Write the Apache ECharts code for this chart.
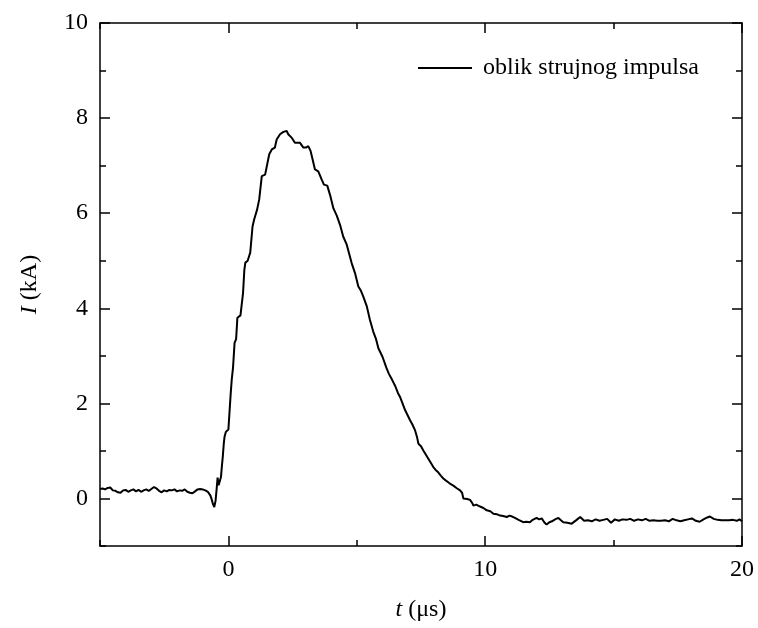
<!DOCTYPE html>
<html><head><meta charset="utf-8">
<script src="https://cdn.jsdelivr.net/npm/echarts@6/dist/echarts.min.js"></script>
<style>html,body{margin:0;padding:0;background:#fff}#c{width:758px;height:628px}</style>
</head><body><div id="c"></div>
<script>
const timeUs = [-5.0,-4.9,-4.8,-4.7,-4.6,-4.5,-4.4,-4.3,-4.2,-4.1,-4.0,-3.9,-3.8,-3.7,-3.6,-3.5,-3.4,-3.3,-3.2,-3.1,-3.0,-2.9,-2.8,-2.7,-2.6,-2.5,-2.4,-2.3,-2.2,-2.1,-2.0,-1.9,-1.8,-1.7,-1.6,-1.5,-1.4,-1.3,-1.2,-1.1,-1.0,-0.9,-0.8,-0.7,-0.65,-0.6,-0.55,-0.5,-0.45,-0.42,-0.38,-0.33,-0.29,-0.25,-0.22,-0.18,-0.15,-0.1,-0.03,0.0,0.04,0.09,0.13,0.18,0.24,0.3,0.35,0.4,0.47,0.57,0.62,0.66,0.75,0.85,0.94,1.0,1.12,1.2,1.3,1.43,1.59,1.69,1.81,1.88,2.01,2.14,2.27,2.33,2.46,2.59,2.79,2.92,3.02,3.11,3.2,3.28,3.37,3.5,3.63,3.72,3.85,3.96,4.09,4.22,4.35,4.47,4.6,4.7,4.8,4.93,5.06,5.15,5.25,5.39,5.51,5.64,5.75,5.84,6.0,6.15,6.25,6.37,6.5,6.6,6.68,6.78,6.88,6.97,7.07,7.17,7.27,7.35,7.4,7.5,7.59,7.68,7.78,7.88,7.98,8.07,8.17,8.27,8.37,8.46,8.56,8.66,8.76,8.88,9.02,9.1,9.15,9.3,9.41,9.5,9.54,9.65,9.8,9.93,10.06,10.2,10.32,10.45,10.58,10.7,10.84,10.95,11.05,11.16,11.3,11.48,11.6,11.74,11.85,12.0,12.1,12.2,12.3,12.39,12.5,12.6,12.72,12.85,12.95,13.04,13.2,13.37,13.56,13.7,13.85,14.0,14.15,14.3,14.45,14.6,14.75,14.9,15.05,15.2,15.35,15.5,15.65,15.8,15.95,16.1,16.25,16.4,16.55,16.7,16.85,17.0,17.15,17.3,17.45,17.6,17.75,17.9,18.05,18.2,18.35,18.5,18.65,18.75,18.9,19.05,19.2,19.35,19.5,19.65,19.8,19.9,20.0];
const currentKA = [0.20,0.21,0.19,0.22,0.23,0.17,0.16,0.13,0.12,0.17,0.18,0.14,0.17,0.19,0.15,0.18,0.14,0.17,0.19,0.16,0.20,0.24,0.21,0.16,0.13,0.17,0.15,0.18,0.17,0.19,0.15,0.17,0.16,0.19,0.14,0.12,0.11,0.15,0.19,0.20,0.19,0.17,0.14,0.06,-0.02,-0.12,-0.18,-0.05,0.25,0.44,0.28,0.32,0.45,0.7,0.87,1.15,1.3,1.4,1.42,1.45,1.79,2.21,2.5,2.75,3.27,3.35,3.8,3.82,3.85,4.32,4.8,4.96,5.0,5.17,5.72,5.86,6.08,6.29,6.78,6.81,7.24,7.34,7.38,7.55,7.66,7.71,7.73,7.66,7.59,7.48,7.48,7.38,7.38,7.41,7.31,7.13,6.92,6.88,6.71,6.6,6.58,6.38,6.1,5.95,5.75,5.51,5.35,5.15,4.95,4.74,4.46,4.38,4.25,4.04,3.76,3.51,3.35,3.16,2.98,2.75,2.62,2.5,2.36,2.22,2.14,2.0,1.86,1.76,1.65,1.55,1.43,1.28,1.15,1.1,1.01,0.93,0.84,0.75,0.66,0.60,0.55,0.48,0.42,0.38,0.34,0.30,0.27,0.22,0.17,0.12,0.0,-0.01,-0.03,-0.1,-0.15,-0.13,-0.17,-0.2,-0.25,-0.27,-0.32,-0.33,-0.36,-0.37,-0.39,-0.36,-0.38,-0.41,-0.45,-0.5,-0.49,-0.5,-0.45,-0.41,-0.44,-0.42,-0.5,-0.55,-0.5,-0.48,-0.44,-0.41,-0.46,-0.5,-0.51,-0.53,-0.45,-0.39,-0.47,-0.46,-0.48,-0.44,-0.47,-0.45,-0.43,-0.51,-0.44,-0.47,-0.44,-0.45,-0.43,-0.47,-0.44,-0.46,-0.43,-0.47,-0.46,-0.47,-0.47,-0.46,-0.48,-0.43,-0.46,-0.48,-0.46,-0.44,-0.42,-0.47,-0.49,-0.44,-0.40,-0.38,-0.43,-0.45,-0.46,-0.46,-0.46,-0.45,-0.47,-0.44,-0.48];
const xMajorTicks = [0, 10, 20];
const xMinorTicks = [-5, 5, 15];
const yMajorTicks = [0, 2, 4, 6, 8, 10];
const yMinorTicks = [-1, 1, 3, 5, 7, 9];
const seriesName = 'oblik strujnog impulsa';

const FONT = '"Liberation Serif", "Times New Roman", serif';
const lineStyle = {color: '#000', width: 1.5};
function xAx(pos, ticks, len, labels, line) {
  return {
    type: 'value', position: pos, min: -5, max: 20,
    axisLine: {show: line, onZero: false, lineStyle},
    axisTick: {show: true, inside: true, length: len, customValues: ticks, lineStyle},
    axisLabel: labels ? {show: true, customValues: ticks, fontFamily: FONT, fontSize: 24, color: '#000', margin: 12} : {show: false},
    splitLine: {show: false}
  };
}
function yAx(pos, ticks, len, labels, line) {
  return {
    type: 'value', position: pos, min: -1, max: 10,
    axisLine: {show: line, onZero: false, lineStyle},
    axisTick: {show: true, inside: true, length: len, customValues: ticks, lineStyle},
    axisLabel: labels ? {show: true, customValues: ticks, fontFamily: FONT, fontSize: 24, color: '#000', margin: 12} : {show: false},
    splitLine: {show: false}
  };
}
const xb = xAx('bottom', xMajorTicks, 10, true, true);
xb.name = '{i|t} (μs)';
xb.nameLocation = 'middle';
xb.nameGap = 52;
xb.nameTextStyle = {fontFamily: FONT, fontSize: 24, color: '#000', rich: {i: {fontStyle: 'italic', fontFamily: FONT, fontSize: 24}}};
const yl = yAx('left', yMajorTicks, 10, true, true);
yl.name = '{i|I} (kA)';
yl.nameLocation = 'middle';
yl.nameGap = 58;
yl.nameTextStyle = {fontFamily: FONT, fontSize: 24, color: '#000', rich: {i: {fontStyle: 'italic', fontFamily: FONT, fontSize: 24}}};

const chart = echarts.init(document.getElementById('c'), null, {renderer: 'canvas'});
chart.setOption({
  animation: false,
  backgroundColor: '#fff',
  grid: {left: 100, top: 23, right: 16, bottom: 82},
  legend: {
    left: 418, top: 56, padding: 0, itemWidth: 54, itemHeight: 2, itemGap: 10,
    data: [{name: seriesName, icon: 'rect', itemStyle: {color: '#000'}}],
    textStyle: {fontFamily: FONT, fontSize: 24, color: '#000', padding: [0, 0, 0, 6]}
  },
  xAxis: [xb, xAx('bottom', xMinorTicks, 6, false, false), xAx('top', xMajorTicks, 10, false, true), xAx('top', xMinorTicks, 6, false, false)],
  yAxis: [yl, yAx('left', yMinorTicks, 6, false, false), yAx('right', yMajorTicks, 10, false, true), yAx('right', yMinorTicks, 6, false, false)],
  series: [{
    name: seriesName, type: 'line', xAxisIndex: 0, yAxisIndex: 0,
    data: timeUs.map((t, i) => [t, currentKA[i]]),
    showSymbol: false, symbol: 'none',
    lineStyle: {color: '#000', width: 2},
    itemStyle: {color: '#000'}
  }]
});
</script></body></html>
